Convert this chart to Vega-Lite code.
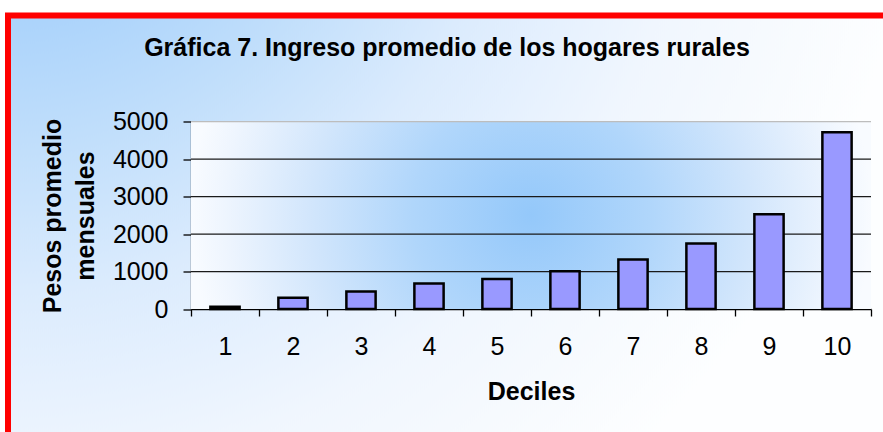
{
  "$schema": "https://vega.github.io/schema/vega-lite/v6.json",
  "width": 878,
  "height": 420,
  "autosize": {"type": "none"},
  "padding": {"left": 8, "top": 15.5, "right": 0, "bottom": 0},
  "background": "white",
  "title": {
    "text": "Gráfica 7. Ingreso promedio de los hogares rurales",
    "anchor": "middle",
    "frame": "group",
    "offset": -65.5,
    "baseline": "alphabetic",
    "font": "Liberation Sans",
    "fontSize": 25,
    "fontWeight": "bold",
    "color": "black"
  },
  "config": {
    "font": "Liberation Sans",
    "view": {
      "fill": {
        "gradient": "radial",
        "x1": 0, "y1": 0, "r1": 0,
        "x2": 0, "y2": 0, "r2": 1.05,
        "stops": [
          {"offset": 0, "color": "#9ecdfb"},
          {"offset": 0.2, "color": "#a3cffb"},
          {"offset": 0.4, "color": "#c2dffb"},
          {"offset": 0.55, "color": "#dbebfd"},
          {"offset": 0.75, "color": "#f0f6fe"},
          {"offset": 1, "color": "#fdfeff"}
        ]
      },
      "stroke": "#ff0000",
      "strokeWidth": 6
    }
  },
  "layer": [
    {
      "data": {"values": [{"area": "plot"}]},
      "mark": {
        "type": "rect",
        "fill": {
          "gradient": "radial",
          "x1": 0.5, "y1": 0.5, "r1": 0,
          "x2": 0.5, "y2": 0.5, "r2": 0.5,
          "stops": [
            {"offset": 0, "color": "#94c8fa"},
            {"offset": 0.35, "color": "#b0d6fb"},
            {"offset": 0.65, "color": "#d2e6fc"},
            {"offset": 0.9, "color": "#eef5fe"},
            {"offset": 1, "color": "#f8fbff"}
          ]
        }
      },
      "encoding": {
        "x": {"datum": 0, "type": "quantitative", "scale": {"domain": [0, 1], "range": [183, 863]}, "axis": null},
        "x2": {"datum": 1},
        "y": {
          "datum": 0,
          "type": "quantitative",
          "scale": {"domain": [0, 5000], "range": [293.5, 106.2], "nice": false},
          "axis": {
            "orient": "left",
            "offset": -183,
            "values": [0, 1000, 2000, 3000, 4000, 5000],
            "format": "d",
            "tickSize": 8,
            "tickColor": "black",
            "tickWidth": 1.3,
            "domainColor": "black",
            "domainWidth": 1.3,
            "labelFontSize": 25,
            "labelColor": "black",
            "labelPadding": 15,
            "grid": false,
            "title": ["Pesos promedio", "mensuales"],
            "titleFontSize": 25,
            "titleFontWeight": "bold",
            "titleColor": "black",
            "titleAngle": -90,
            "titleX": -138.5,
            "titleY": 200,
            "titleBaseline": "middle",
            "titleAlign": "center",
            "titleLineHeight": 32.5
          }
        },
        "y2": {"datum": 5000}
      }
    },
    {
      "data": {
        "values": [
          {"nivel": 1000},
          {"nivel": 2000},
          {"nivel": 3000},
          {"nivel": 4000},
          {"nivel": 5000}
        ]
      },
      "mark": {"type": "rule", "strokeWidth": 1.3},
      "encoding": {
        "x": {"datum": 0, "type": "quantitative", "scale": {"domain": [0, 1], "range": [183, 863]}, "axis": null},
        "x2": {"datum": 1},
        "y": {"field": "nivel", "type": "quantitative"},
        "color": {"condition": {"test": "datum.nivel === 5000", "value": "#bdbdbd"}, "value": "#1a1a1a"},
        "strokeWidth": {"condition": {"test": "datum.nivel === 5000", "value": 2.2}, "value": 1.3}
      }
    },
    {
      "data": {
        "values": [
          {"decil": 1, "ingreso": 60},
          {"decil": 2, "ingreso": 300},
          {"decil": 3, "ingreso": 470},
          {"decil": 4, "ingreso": 680},
          {"decil": 5, "ingreso": 800},
          {"decil": 6, "ingreso": 1010},
          {"decil": 7, "ingreso": 1320},
          {"decil": 8, "ingreso": 1750},
          {"decil": 9, "ingreso": 2530},
          {"decil": 10, "ingreso": 4720}
        ]
      },
      "mark": {"type": "bar", "fill": "#9999ff", "stroke": "black", "strokeWidth": 2.5, "width": {"band": 0.43}},
      "encoding": {
        "x": {
          "field": "decil",
          "type": "ordinal",
          "scale": {"range": [183, 863], "paddingInner": 0, "paddingOuter": 0},
          "axis": {
            "orient": "bottom",
            "offset": -126.5,
            "tickBand": "extent",
            "tickSize": 7,
            "tickColor": "black",
            "tickWidth": 1.3,
            "domainColor": "black",
            "domainWidth": 1.3,
            "labelFontSize": 25,
            "labelColor": "black",
            "labelPadding": 18,
            "labelAngle": 0,
            "grid": false,
            "title": "Deciles",
            "titleFontSize": 25,
            "titleFontWeight": "bold",
            "titleColor": "black",
            "titleX": 523,
            "titleY": 90,
            "titleBaseline": "alphabetic",
            "titleAlign": "center"
          }
        },
        "y": {"field": "ingreso", "type": "quantitative"}
      }
    }
  ],
  "resolve": {"scale": {"x": "independent"}}
}
